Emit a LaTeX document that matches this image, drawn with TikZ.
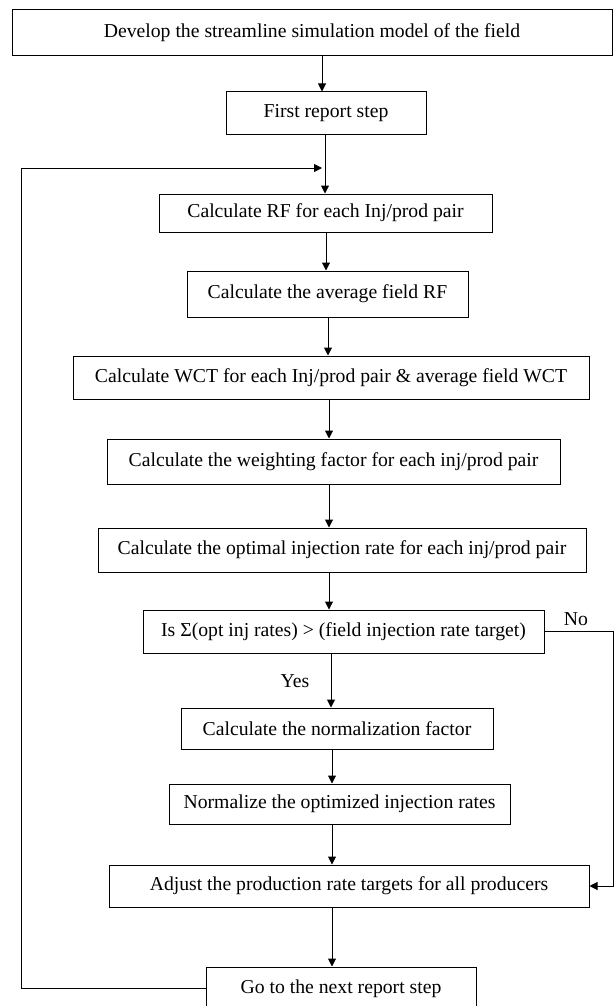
\documentclass[tikz,border=0pt]{standalone}
\usepackage{fontspec}
\setmainfont{Liberation Serif}
\usetikzlibrary{arrows.meta}
\begin{document}
\begin{tikzpicture}[x=1pt,y=-1pt,
  box/.style={draw=black, line width=1pt, inner sep=0pt, font=\fontsize{19.7}{22}\selectfont, text=black},
  arr/.style={draw=black, line width=1pt, -{Triangle[length=8pt,width=8pt]}},
  ln/.style={draw=black, line width=1pt},
  lbl/.style={font=\fontsize{19.7}{22}\selectfont, inner sep=0pt, text=black}]
\useasboundingbox (0,0) rectangle (614,1006);
\node[box, minimum width=600pt, minimum height=46pt] (b1) at (312,33) {Develop the streamline simulation model of the field};
\node[box, minimum width=200pt, minimum height=43pt] (b2) at (326,113.5) {First report step};
\node[box, minimum width=333pt, minimum height=38pt] (b3) at (325.5,213) {Calculate RF for each Inj/prod pair};
\node[box, minimum width=281pt, minimum height=46pt] (b4) at (327.5,294) {Calculate the average field RF};
\node[box, minimum width=516pt, minimum height=43pt] (b5) at (331,377.5) {Calculate WCT for each Inj/prod pair \& average field WCT};
\node[box, minimum width=453pt, minimum height=45pt] (b6) at (333.5,461.5) {Calculate the weighting factor for each inj/prod pair};
\node[box, minimum width=488pt, minimum height=44pt] (b7) at (342,550) {Calculate the optimal injection rate for each inj/prod pair};
\node[box, minimum width=401pt, minimum height=43pt] (b8) at (343.5,631.5) {Is Σ(opt inj rates) > (field injection rate target)};
\node[box, minimum width=312pt, minimum height=41pt] (b9) at (337,728.5) {Calculate the normalization factor};
\node[box, minimum width=341pt, minimum height=40pt] (b10) at (339.5,804) {Normalize the optimized injection rates};
\node[box, minimum width=480pt, minimum height=42pt] (b11) at (349,886) {Adjust the production rate targets for all producers};
\node[box, minimum width=270pt, minimum height=43pt] (b12) at (341,988.5) {Go to the next report step};

\coordinate (a1) at (322,0);
\coordinate (a2) at (325,0);
\coordinate (a3) at (326,0);
\coordinate (a4) at (328,0);
\coordinate (a5) at (329,0);
\coordinate (a8) at (331,0);
\coordinate (a9) at (332,0);
\coordinate (fl) at (21,0);
\coordinate (ft) at (322,168);
\coordinate (nr) at (613.5,0);

\draw[arr] (b1.south -| a1) -- (b2.north -| a1);
\draw[arr] (b2.south -| a2) -- (b3.north -| a2);
\draw[arr] (b3.south -| a3) -- (b4.north -| a3);
\draw[arr] (b4.south -| a4) -- (b5.north -| a4);
\draw[arr] (b5.south -| a5) -- (b6.north -| a5);
\draw[arr] (b6.south -| a5) -- (b7.north -| a5);
\draw[arr] (b7.south -| a5) -- (b8.north -| a5);
\draw[arr] (b8.south -| a8) -- (b9.north -| a8);
\draw[arr] (b9.south -| a9) -- (b10.north -| a9);
\draw[arr] (b10.south -| a9) -- (b11.north -| a9);
\draw[arr] (b11.south -| a9) -- (b12.north -| a9);

\draw[arr] (b12.west) -- (b12.west -| fl) |- (ft);
\draw[arr] (b8.east) -- (b8.east -| nr) |- (b11.east);

\node[lbl] (no) at (576,619) {No};
\node[lbl] (yes) at (295,681) {Yes};
\end{tikzpicture}
\end{document}
